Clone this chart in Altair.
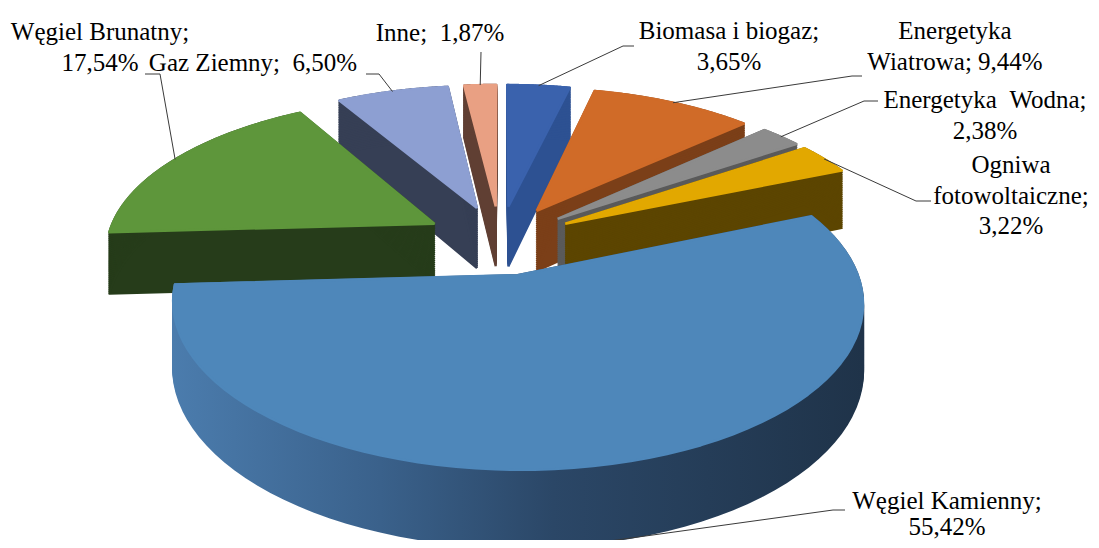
import math
import altair as alt
import pandas as pd

# ---------------- data ----------------
categories = ["Biomasa i biogaz", "Energetyka Wiatrowa", "Energetyka Wodna",
              "Ogniwa fotowoltaiczne", "Węgiel Kamienny", "Węgiel Brunatny",
              "Gaz Ziemny", "Inne"]
shares = [3.65, 9.44, 2.38, 3.22, 55.42, 17.54, 6.50, 1.87]

NB = "\u00a0"
# label text templates ({v} is replaced with the formatted share)
label_templates = ["Biomasa i biogaz;\n{v}", "Energetyka\nWiatrowa; {v}",
                   "Energetyka " + NB + "Wodna;\n{v}", "Ogniwa\nfotowoltaiczne;\n{v}",
                   "Węgiel Kamienny;\n{v}", "Węgiel Brunatny;\n{v}",
                   "Gaz Ziemny; " + NB + "{v}", "Inne; " + NB + "{v}"]

# ---------------- style ----------------
top_colors = ["#3a62ad", "#d06b28", "#8c8c8c", "#e2a800",
              "#4e87ba", "#5e963b", "#8d9fd2", "#e9a083"]
side_colors = ["#2d5192", "#7b3f18", "#5a5a5a", "#5c4500",
               "#2c4a6b", "#263c1a", "#363f55", "#603f33"]
main_wall_stops = [("#4b7cad", 0.0), ("#3a618b", 0.3), ("#2b4767", 0.55), ("#1f3349", 1.0)]

# label layout (page px; y is the first line's centre)
label_x = [729, 955, 985, 1011, 947, 100, 253, 440]
label_y = [31, 31, 100, 165, 501, 32, 63, 33]
label_lh = [30.5, 30.5, 30.5, 30.5, 26, 30.5, 30.5, 30.5]
elbow_x = [623, 852, 864, 916, 833, 160, 379, 481]
elbow_y = [46, 76, 101, 201, 510, 74, 74, 52]
end_x = [634, 862, 878, 931, 845, 145, 366, 481]
end_y = [46, 76, 101, 201, 510, 74, 74, 52]

M = 8  # page margin
CX, CY = 500 - M, 240 - M
RX, RY, P, E, DEPTH = 328, 151, 0.16, 0.23, 62
N = 72
FONT = "Liberation Serif"

def fmt(v):
    return f"{v:.2f}".replace(".", ",") + "%"

df = pd.DataFrame({
    "cat": categories, "share": shares, "idx": list(range(len(categories))),
    "label": [t.format(v=fmt(v)) for t, v in zip(label_templates, shares)],
    "lx": [x - M for x in label_x], "ly": [y - M for y in label_y],
    "lh": label_lh,
    "ex1": [x - M for x in elbow_x], "ey1": [y - M for y in elbow_y],
    "ex2": [x - M for x in end_x], "ey2": [y - M for y in end_y],
})

base = alt.Chart(df).transform_window(
    cum="sum(share)", sort=[alt.SortField("idx", order="ascending")], frame=[None, 0]
).transform_joinaggregate(
    total="sum(share)"
).transform_calculate(
    t0="2*PI*(datum.cum - datum.share)/datum.total",
    t1="2*PI*datum.cum/datum.total",
    m="(datum.t0 + datum.t1)/2",
    ox=f"{E}*sin(datum.m)",
    oy=f"-{E}*cos(datum.m)",
)

def poly(chart):
    return chart.transform_calculate(
        k=f"sequence(0, {N + 3})"
    ).transform_flatten(["k"]).transform_calculate(
        r=f"(datum.k == 0 || datum.k == {N + 2}) ? 0 : 1",
        th=f"datum.t0 + (datum.t1 - datum.t0) * clamp(datum.k - 1, 0, {N}) / {N}",
        X="datum.ox + datum.r*sin(datum.th)",
        Y="datum.oy - datum.r*cos(datum.th)",
        s=f"1/(1 - {P}*datum.Y)",
        sx=f"{CX} + {RX}*datum.X*datum.s",
        sy0=f"{CY} + {RY}*datum.Y*datum.s",
    )

def wall(i):
    c = poly(base.transform_filter(alt.datum.idx == i)).transform_calculate(
        dz=f"sequence(0, {DEPTH + 1}, 2)"
    ).transform_flatten(["dz"]).transform_calculate(
        sy="datum.sy0 + datum.dz*datum.s"
    )
    if categories[i] == "Węgiel Kamienny":
        grad = alt.Gradient(gradient="linear",
                            stops=[alt.GradientStop(color=c_, offset=o) for c_, o in main_wall_stops],
                            x1=0, x2=1, y1=0, y2=0)
        mk = c.mark_line(fill=grad, stroke=grad, strokeWidth=2.2, strokeJoin="round")
    else:
        mk = c.mark_line(fill=side_colors[i], stroke=side_colors[i], strokeWidth=2.2,
                         strokeJoin="round")
    return mk.encode(
        x=alt.X("sx:Q", scale=None, axis=None),
        y=alt.Y("sy:Q", scale=None, axis=None),
        detail="dz:N",
        order="k:Q",
    )

def top(i):
    c = poly(base.transform_filter(alt.datum.idx == i)).transform_calculate(sy="datum.sy0")
    return c.mark_line(fill=top_colors[i], stroke=top_colors[i], strokeWidth=2.4,
                       strokeJoin="round").encode(
        x=alt.X("sx:Q", scale=None, axis=None),
        y=alt.Y("sy:Q", scale=None, axis=None),
        order="k:Q",
    )

# painter's order: back slices first (by depth of their mid direction)
total = sum(shares)
cum = 0.0
depth_key = []
for v in shares:
    mid = 2 * math.pi * (cum + v / 2) / total
    depth_key.append(-math.cos(mid))
    cum += v
draw_order = sorted(range(len(categories)), key=lambda i: depth_key[i])

layers = []
for i in draw_order:
    layers.append(wall(i))
    layers.append(top(i))

leaders = base.transform_calculate(
    X0="datum.ox + sin(datum.m)",
    Y0="datum.oy - cos(datum.m)",
    s0=f"1/(1 - {P}*datum.Y0)",
    gx=f"{CX} + {RX}*datum.X0*datum.s0",
    gy=f"{CY} + {RY}*datum.Y0*datum.s0 + (datum.Y0 > 0.5 ? {DEPTH}*datum.s0 : 0)",
    k="[0, 1, 2]",
).transform_flatten(["k"]).transform_calculate(
    px="datum.k == 0 ? datum.gx : (datum.k == 1 ? datum.ex1 : datum.ex2)",
    py="datum.k == 0 ? datum.gy : (datum.k == 1 ? datum.ey1 : datum.ey2)",
).mark_line(color="#3a3a3a", strokeWidth=1).encode(
    x=alt.X("px:Q", scale=None, axis=None),
    y=alt.Y("py:Q", scale=None, axis=None),
    detail="cat:N",
    order="k:Q",
)

def label_layer(lh):
    return alt.Chart(df).transform_filter(alt.datum.lh == lh).mark_text(
        font=FONT, fontSize=25, lineBreak="\n", align="center", baseline="middle",
        lineHeight=lh, color="#000000"
    ).encode(
        x=alt.X("lx:Q", scale=None, axis=None),
        y=alt.Y("ly:Q", scale=None, axis=None),
        text="label:N",
    )

label_layers = [label_layer(lh) for lh in sorted(set(label_lh))]

chart = alt.layer(*layers, leaders, *label_layers).properties(
    width=1083, height=532, padding=0, autosize="none"
).configure_view(stroke=None)

chart.save("out.html", embed_options={"renderer": "svg", "actions": False})
